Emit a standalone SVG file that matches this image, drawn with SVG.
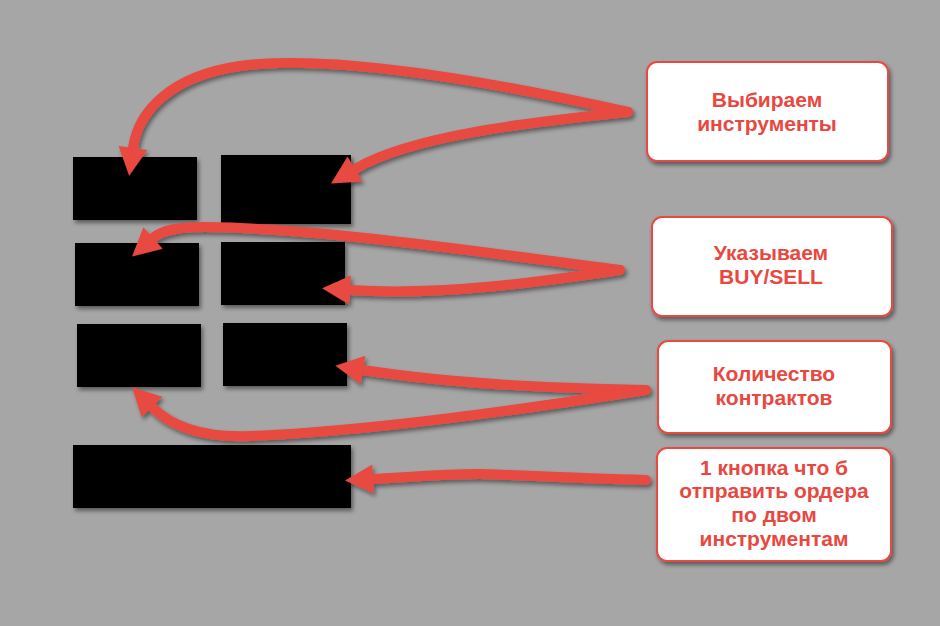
<svg xmlns="http://www.w3.org/2000/svg" width="940" height="626" viewBox="0 0 940 626">
<style>
.blk{fill:#000}
.lbl rect{fill:#fff;stroke:#e8483f;stroke-width:2}
.lbl text{font-family:"Liberation Sans",Arial,sans-serif;font-weight:bold;font-size:21px;fill:#e8483f;text-anchor:middle}
.conn path{fill:none;stroke:#e8483f;stroke-width:10;stroke-linecap:round;marker-end:url(#ah)}
</style>
<defs>
<filter id="sh" x="-20%" y="-20%" width="140%" height="140%">
<feDropShadow dx="2" dy="3" stdDeviation="2" flood-color="#000" flood-opacity="0.45"/>
</filter>
<marker id="ah" markerUnits="userSpaceOnUse" viewBox="0 -15 28 30" markerWidth="28" markerHeight="30" refX="0" refY="0" orient="auto" overflow="visible">
<path d="M0,-14.5 L28,0 L0,14.5 Z" fill="#e8483f"/>
</marker>
</defs>
<rect width="940" height="626" fill="#a6a6a6"/>
<g id="blocks" filter="url(#sh)">
<rect id="r1" class="blk" x="73" y="157" width="124" height="63"/>
<rect id="r2" class="blk" x="221" y="155" width="130" height="69"/>
<rect id="r3" class="blk" x="75" y="243" width="124" height="63"/>
<rect id="r4" class="blk" x="221" y="242" width="124" height="63"/>
<rect id="r5" class="blk" x="77" y="324" width="124" height="63"/>
<rect id="r6" class="blk" x="223" y="323" width="124" height="63"/>
<rect id="r7" class="blk" x="73" y="445" width="278" height="63"/>
</g>
<g id="connectors" class="conn" filter="url(#sh)">
<path d="M628,112 C520,88 340,52 240,66 C170,76 138,112 133,148"/>
<path d="M628,112 C530,122 410,136 355,169"/>
<path d="M620,270 C480,252 320,228 205,227 C178,227 162,230 153,238"/>
<path d="M620,270 C540,282 440,296 350,290"/>
<path d="M646,390 C560,388 460,385 363,370"/>
<path d="M646,390 C520,410 360,432 250,436 C200,438 170,425 152,407"/>
<path d="M646,480 C560,478 500,474 480,474 C440,474 410,477 373,479"/>
</g>
<g id="n1" class="lbl">
<rect x="647" y="62" width="241" height="99" rx="10" filter="url(#sh)"/>
<text x="767" y="107">Выбираем</text>
<text x="767" y="131">инструменты</text>
</g>
<g id="n2" class="lbl">
<rect x="652" y="217" width="240" height="99" rx="10" filter="url(#sh)"/>
<text x="771" y="260">Указываем</text>
<text x="771" y="284">BUY/SELL</text>
</g>
<g id="n3" class="lbl">
<rect x="658" y="341" width="233" height="92" rx="10" filter="url(#sh)"/>
<text x="774" y="381">Количество</text>
<text x="774" y="405">контрактов</text>
</g>
<g id="n4" class="lbl">
<rect x="657" y="448" width="234" height="113" rx="10" filter="url(#sh)"/>
<text x="774" y="475">1 кнопка что б</text>
<text x="774" y="498">отправить ордера</text>
<text x="774" y="522">по двом</text>
<text x="774" y="546">инструментам</text>
</g>
</svg>
